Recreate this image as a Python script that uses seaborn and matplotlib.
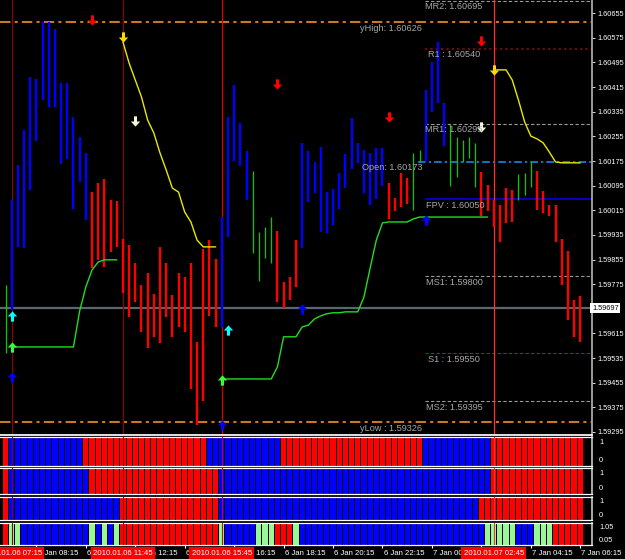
import matplotlib
matplotlib.use("Agg")
import matplotlib.pyplot as plt
import seaborn as sns

# M15 bars, index 0 = 6 Jan 07:00 ... index 93 = 7 Jan 06:15
bar_high = [1.59772, 1.60048, 1.60162, 1.60276, 1.60448, 1.60442, 1.60627, 1.60627, 1.60604, 1.60428,
            1.60428, 1.60318, 1.60254, 1.60201, 1.60074, 1.60104, 1.60116, 1.60048, 1.60045, 1.59922,
            1.59902, 1.59843, 1.59772, 1.59810, 1.59743, 1.59896, 1.59843, 1.59740, 1.59811, 1.59798,
            1.59843, 1.59587, 1.59889, 1.59920, 1.59856, 1.59993, 1.60318, 1.60422, 1.60298, 1.60207,
            1.60142, 1.59945, 1.59961, 1.59993, 1.59948, 1.59782, 1.59798, 1.59917, 1.60234, 1.60207,
            1.60172, 1.60220, 1.60074, 1.60085, 1.60136, 1.60198, 1.60315, 1.60234, 1.60211, 1.60201,
            1.60217, 1.60217, 1.60104, 1.60055, 1.60136, 1.60120, 1.60201, 1.60211, 1.60405, 1.60497,
            1.60562, 1.60363, 1.60295, 1.60254, 1.60243, 1.60254, 1.60234, 1.60139, 1.60098, 1.60048,
            1.60032, 1.60087, 1.60081, 1.60133, 1.60136, 1.60175, 1.60143, 1.60078, 1.60032, 1.60032,
            1.59922, 1.59883, 1.59724, 1.59737]
bar_low = [1.59552, 1.59691, 1.59896, 1.59892, 1.60081, 1.60240, 1.60373, 1.60350, 1.60350, 1.60165,
           1.60182, 1.60019, 1.60107, 1.59984, 1.59827, 1.59853, 1.59831, 1.59879, 1.59896, 1.59746,
           1.59668, 1.59717, 1.59620, 1.59567, 1.59604, 1.59584, 1.59668, 1.59604, 1.59636, 1.59620,
           1.59436, 1.59317, 1.59395, 1.59672, 1.59636, 1.59636, 1.59928, 1.60176, 1.60159, 1.60048,
           1.59876, 1.59785, 1.59860, 1.59843, 1.59717, 1.59698, 1.59724, 1.59766, 1.59892, 1.60042,
           1.60071, 1.59945, 1.59941, 1.59967, 1.60019, 1.60087, 1.60149, 1.60169, 1.60071, 1.60032,
           1.60051, 1.60094, 1.59987, 1.60011, 1.60025, 1.60034, 1.60016, 1.60172, 1.60176, 1.60334,
           1.60363, 1.60224, 1.60094, 1.60123, 1.60172, 1.60185, 1.60091, 1.59996, 1.60011, 1.59961,
           1.59912, 1.59974, 1.59977, 1.60048, 1.60065, 1.60091, 1.60016, 1.60006, 1.59996, 1.59912,
           1.59772, 1.59658, 1.59604, 1.59588]
# bar colour runs: G=green, B=blue, R=red
bar_runs = [("G", 1), ("B", 13), ("R", 21), ("B", 5), ("G", 4), ("R", 4), ("B", 14),
            ("R", 4), ("G", 2), ("B", 4), ("G", 5), ("R", 6), ("G", 3), ("R", 8)]

# trailing stop lines
stop_dn1_start = 19
stop_dn1 = [1.60562, 1.60493, 1.60438, 1.60383, 1.60308, 1.60266, 1.60201, 1.60146,
            1.60087, 1.60074, 1.60009, 1.59977, 1.59918, 1.59896, 1.59896, 1.59896]
stop_dn2_start = 79
stop_dn2 = [1.60471, 1.60471, 1.60471, 1.60438, 1.60373, 1.60302, 1.60256, 1.60247,
            1.60234, 1.60204, 1.60172, 1.60169, 1.60169, 1.60169, 1.60169]
stop_up1_start = 1
stop_up1 = [1.59571, 1.59571, 1.59571, 1.59571, 1.59571, 1.59571, 1.59571, 1.59571, 1.59571,
            1.59571, 1.59571, 1.59688, 1.59766, 1.59821, 1.59847, 1.59854, 1.59854, 1.59854]
stop_up2_start = 35
stop_up2 = [1.59467, 1.59467, 1.59467, 1.59467, 1.59467, 1.59467, 1.59467, 1.59467, 1.59467,
            1.59506, 1.59604, 1.59604, 1.59604, 1.59636, 1.59642, 1.59662, 1.59672, 1.59679,
            1.59682, 1.59682, 1.59685, 1.59685, 1.59685, 1.59733, 1.59827, 1.59918, 1.59974,
            1.59977, 1.59977, 1.59977, 1.59977, 1.59987, 1.59993, 1.59993, 1.59993, 1.59993,
            1.59993, 1.59993, 1.59993, 1.59993, 1.59993, 1.59993, 1.59993, 1.59993]

# signal arrows (bar, price)
dn_red_bar, dn_red_px = [14, 44, 62, 77], [1.60633, 1.60425, 1.60318, 1.60565]
dn_yel_bar, dn_yel_px = [19, 79], [1.60578, 1.60471]
dn_wht_bar, dn_wht_px = [21, 77], [1.60305, 1.60285]
up_cyan_bar, up_cyan_px = [1, 36], [1.59672, 1.59626]
up_lime_bar, up_lime_px = [1, 35], [1.59571, 1.59464]
up_blue_bar, up_blue_px = [1, 35, 48, 68], [1.59474, 1.59317, 1.59694, 1.59984]

# pivot levels
level_names = ["MR2", "yHigh", "R1", "MR1", "Open", "FPV", "MS1", "S1", "MS2", "yLow"]
level_values = [1.60695, 1.60626, 1.60540, 1.60295, 1.60173, 1.60050, 1.59800, 1.59550, 1.59395, 1.59326]
level_labels = ["MR2: 1.60695", "yHigh: 1.60626", "R1 : 1.60540", "MR1: 1.60295", "Open: 1.60173",
                "FPV : 1.60050", "MS1: 1.59800", "S1 : 1.59550", "MS2: 1.59395", "yLow : 1.59326"]
last_price = 1.59697

price_ticks = [1.60655, 1.60575, 1.60495, 1.60415, 1.60335, 1.60255, 1.60175, 1.60095, 1.60015,
               1.59935, 1.59855, 1.59775, 1.59615, 1.59535, 1.59455, 1.59375, 1.59295]

# indicator strips
strip_runs = [
    [("R", 1), ("B", 12), ("R", 20), ("B", 12), ("R", 23), ("B", 11), ("R", 15)],
    [("R", 1), ("B", 13), ("R", 21), ("B", 44), ("R", 15)],
    [("R", 1), ("B", 18), ("R", 16), ("B", 42), ("R", 17)],
    [("R", 1), ("L", 2), ("B", 11), ("L", 1), ("B", 1), ("L", 1), ("B", 1), ("L", 1), ("R", 16),
     ("L", 1), ("B", 5), ("L", 3), ("R", 3), ("L", 1), ("B", 30), ("L", 5), ("B", 3), ("L", 3), ("R", 5)],
]
strip_labels = [("1", "0"), ("1", "0"), ("1", "0"), ("1.05", "0.05")]

# time axis
time_bars = [5, 13, 21, 29, 37, 45, 53, 61, 69, 77, 85, 93]
time_labels = ["6 Jan 08:15", "6 Jan 10:15", "6 Jan 12:15", "6 Jan 14:15", "6 Jan 16:15", "6 Jan 18:15",
               "6 Jan 20:15", "6 Jan 22:15", "7 Jan 00:15", "7 Jan 02:15", "7 Jan 04:15", "7 Jan 06:15"]
vline_bars = [1, 19, 35, 79]
vline_labels = ["2010.01.06 07:15", "2010.01.06 11:45", "2010.01.06 15:45", "2010.01.07 02:45"]


def expand(runs):
    out = []
    for c, n in runs:
        out += [c] * n
    return out


sns.set_theme(style="dark", rc={"axes.facecolor": "black", "figure.facecolor": "black",
                                "savefig.facecolor": "black", "axes.grid": False})
plt.rcParams['font.family'] = ['Liberation Sans', 'DejaVu Sans']
SMALL = 5.3

W, H = 625, 559
AX_RIGHT = 592
X0, DX = 5.5, 6.18
xlim = (-X0 / DX, (AX_RIGHT - X0) / DX)
vline_colors = ["#8B0000", "#8B0000", "#D80000", "#FF3030"]


def px_rect(top, bottom):
    return [0, 1 - bottom / H, AX_RIGHT / W, (bottom - top) / H]


fig = plt.figure(figsize=(W / 100, H / 100), dpi=100)

# ---- main price chart
ax = fig.add_axes(px_rect(0, 435))
ax.set_facecolor("black")
ax.set_xlim(*xlim)
ax.set_ylim(1.59285, 1.60698)

level_style = {
    "MR2": ("#9A9A9A", (0, (3, 2)), 0.8, 67.9),
    "yHigh": ("#C8781E", (0, (5, 2, 1.5, 2)), 1.5, xlim[0]),
    "R1": ("#8B1010", (0, (1.5, 2)), 1.1, 67.9),
    "MR1": ("#9A9A9A", (0, (3, 2)), 0.8, 67.9),
    "Open": ("#1E90FF", (0, (5, 2, 1.5, 2)), 1.1, 66.8),
    "FPV": ("#0000FF", "-", 1.1, 67.9),
    "MS1": ("#9A9A9A", (0, (3, 2)), 0.8, 67.9),
    "S1": ("#007000", (0, (3, 2)), 0.8, 67.9),
    "MS2": ("#9A9A9A", (0, (3, 2)), 0.8, 67.9),
    "yLow": ("#C8781E", (0, (5, 2, 1.5, 2)), 1.5, xlim[0]),
}
label_bar = {"MR2": 67.9, "yHigh": 57.4, "R1": 68.4, "MR1": 67.9, "Open": 57.7,
             "FPV": 68.0, "MS1": 68.0, "S1": 68.4, "MS2": 68.0, "yLow": 57.4}
for name, val, lab in zip(level_names, level_values, level_labels):
    col, ls, lw, start = level_style[name]
    ax.hlines(val, start, xlim[1], colors=col, linestyles=ls, linewidth=lw, zorder=1)
    ax.annotate(lab, (label_bar[name], val), xytext=(0, -1), textcoords="offset points",
                ha="left", va="top", color="#A8A8A8", fontsize=6.6, zorder=6)

ax.axhline(last_price, color="#5C6670", lw=1.6, zorder=1)

for b, c in zip(vline_bars, vline_colors):
    ax.axvline(b, color=c, lw=0.9, zorder=2)

idx = list(range(len(bar_high)))
cols = expand(bar_runs)
cmap = {"G": "#00CC00", "B": "#0000FF", "R": "#FF0000"}
ax.vlines(idx, bar_low, bar_high, colors=[cmap[c] for c in cols],
          linewidths=[0.9 if c == "G" else 1.7 for c in cols], zorder=3)

for start, vals, col in [(stop_dn1_start, stop_dn1, "#E8E800"), (stop_dn2_start, stop_dn2, "#E8E800"),
                         (stop_up1_start, stop_up1, "#22DD22"), (stop_up2_start, stop_up2, "#22DD22")]:
    sns.lineplot(x=list(range(start, start + len(vals))), y=vals, ax=ax, color=col,
                 lw=1.0, estimator=None, legend=False, zorder=4)

down_arrow = [(-0.16, 0.55), (0.16, 0.55), (0.16, 0.0), (0.5, 0.0), (0.0, -0.55),
              (-0.5, 0.0), (-0.16, 0.0), (-0.16, 0.55)]
up_arrow = [(x, -y) for x, y in down_arrow]
for bars, pxs, col, mk in [(dn_red_bar, dn_red_px, "#FF0000", down_arrow),
                           (dn_yel_bar, dn_yel_px, "#FFD700", down_arrow),
                           (dn_wht_bar, dn_wht_px, "#F5F5DC", down_arrow),
                           (up_cyan_bar, up_cyan_px, "#00FFFF", up_arrow),
                           (up_lime_bar, up_lime_px, "#33FF33", up_arrow),
                           (up_blue_bar, up_blue_px, "#0000FF", up_arrow)]:
    ax.scatter(bars, pxs, marker=mk, s=55, color=col, linewidths=0, zorder=5)

ax.yaxis.tick_right()
ax.set_yticks(price_ticks)
ax.set_yticklabels([f"{t:.5f}" for t in price_ticks])
ax.tick_params(axis="y", colors="white", labelsize=SMALL, length=2.5, width=0.6, pad=1.2,
               labelcolor="white")
ax.set_xticks([])
ax.set_xlabel("")
ax.set_ylabel("")
for s in ["top", "left"]:
    ax.spines[s].set_visible(False)
ax.spines["right"].set_color("#B0B0B0")
ax.spines["bottom"].set_color("white")
ax.text(1.0, last_price, f"{last_price:.5f}", transform=ax.get_yaxis_transform(),
        ha="left", va="center", fontsize=SMALL, color="black",
        bbox=dict(facecolor="white", edgecolor="none", pad=1.2), zorder=10, clip_on=False)

# ---- indicator strips
panel_rows = [(437, 466), (468, 494), (497, 520), (523, 545)]
scmap = {"R": "#FF0000", "B": "#0000FF", "L": "#98F898"}
for (top, bottom), runs, (hi, lo) in zip(panel_rows, strip_runs, strip_labels):
    pax = fig.add_axes(px_rect(top, bottom))
    pax.set_facecolor("black")
    sc = expand(runs)
    pax.bar(idx, 1, width=0.84, bottom=0, color=[scmap[c] for c in sc], linewidth=0, zorder=2)
    for b, c in zip(vline_bars, vline_colors):
        pax.axvline(b, color=c, lw=0.8, zorder=3)
    pax.set_xlim(*xlim)
    pax.set_ylim(0, 1)
    pax.set_xticks([])
    pax.set_yticks([])
    pax.spines["left"].set_visible(False)
    pax.spines["right"].set_color("#C0C0C0")
    for s in ["top", "bottom"]:
        pax.spines[s].set_color("white")
        pax.spines[s].set_linewidth(0.9)
    pax.text(1.012, 0.8, hi, transform=pax.transAxes, color="white", fontsize=SMALL, va="center")
    pax.text(1.012, 0.2, lo, transform=pax.transAxes, color="white", fontsize=SMALL, va="center")

# ---- time axis
tax = fig.add_axes(px_rect(545, 559))
tax.set_facecolor("black")
tax.set_xlim(*xlim)
tax.set_ylim(0, 1)
tax.axis("off")
tax.vlines(time_bars, 0.78, 1.0, colors="white", lw=0.8)
for b, lab in zip(time_bars, time_labels):
    tax.text(b + 0.2, 0.42, lab, ha="left", va="center", color="white", fontsize=5.6, clip_on=False)
for b, lab in zip(vline_bars, vline_labels):
    tax.text(b, 0.42, lab, ha="center", va="center", color="white", fontsize=5.6, zorder=5,
             bbox=dict(facecolor="#FF0000", edgecolor="none", pad=1.6), clip_on=False)

fig.savefig("out.png", dpi=100, facecolor="black")
